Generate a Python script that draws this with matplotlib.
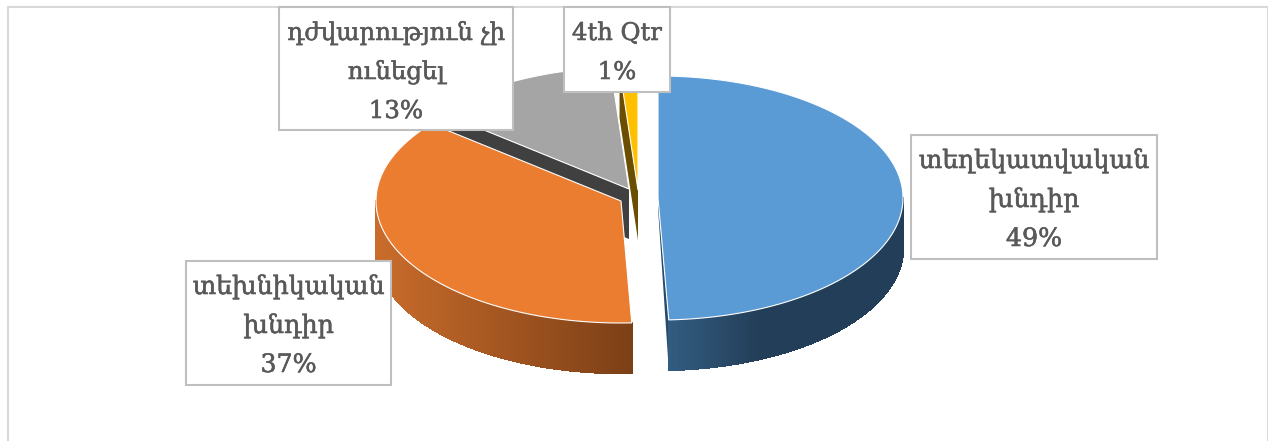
import numpy as np
import matplotlib
matplotlib.use("Agg")
import matplotlib.pyplot as plt
import matplotlib.patheffects as pe
from matplotlib.patches import Rectangle
from matplotlib.collections import PolyCollection
from matplotlib.colors import to_rgb

# ---- data ----
categories = [["տեղեկատվական", "խնդիր"], ["տեխնիկական", "խնդիր"],
              ["դժվարություն չի", "ունեցել"], ["4th Qtr"]]
values = [49.3, 36.6, 12.9, 1.2]
percent_labels = ["49%", "37%", "13%", "1%"]

# ---- style / layout (pixel space) ----
W, H = 1268, 441
top_colors = ["#5B9BD5", "#EB7D31", "#A5A5A5", "#FFC000"]
cut_colors = ["#264B6B", "#A0551F", "#404040", "#6B4E00"]
wall_left = ["#325C80", "#C96C2B", "#5F5F5F", "#8A6900"]
wall_right = ["#233E58", "#7C3F16", "#5F5F5F", "#8A6900"]
centers = [(658, 198), (621, 201), (629, 189), (638, 190)]
RX, RY, DEPTH = 245, 122, 50
apex_depth = [10, 50, 50, 50]
boxes = [(911, 135, 246, 124), (186, 261, 205, 124),
         (279, 7, 234, 123), (564, 7, 106, 85)]
font_sizes = [18.2, 18.2, 17.6, 17.5]
FIRST_BASELINE, LINE_STEP = 33, 39
TEXT = "#595959"
EDGE = "#BFBFBF"
FRAME = "#D9D9D9"

fig = plt.figure(figsize=(W / 100, H / 100), dpi=100)
ax = fig.add_axes([0, 0, 1, 1])
ax.set_xlim(0, W)
ax.set_ylim(H, 0)
ax.axis("off")


def rim(center, a):
    a = np.radians(a)
    return center[0] + RX * np.sin(a), center[1] - RY * np.cos(a)


edges = np.concatenate([[0], np.cumsum(values)]) / np.sum(values) * 360


def draw_slice(i):
    a0, a1 = edges[i], edges[i + 1]
    c = centers[i]
    # cut face that faces the viewer
    a = a1 if i == 0 else a0
    if i != 1:
        x, y = rim(c, a)
        ax.fill([c[0], x, x, c[0]],
                [c[1], y, y + DEPTH, c[1] + apex_depth[i]],
                color=cut_colors[i], lw=0, zorder=2)
    # curved outer wall on the front half
    lo, hi = max(a0, 90), min(a1, 270)
    if hi > lo:
        th = np.linspace(lo, hi, 160)
        xs, ys = rim(c, th)
        polys, cols = [], []
        xmin, xmax = xs.min(), xs.max()
        cl, cr = np.array(to_rgb(wall_left[i])), np.array(to_rgb(wall_right[i]))
        for k in range(len(th) - 1):
            polys.append([(xs[k], ys[k]), (xs[k + 1], ys[k + 1]),
                          (xs[k + 1], ys[k + 1] + DEPTH), (xs[k], ys[k] + DEPTH)])
            xm = (xs[k] + xs[k + 1]) / 2
            t = min((xm - xmin) / 90, 1) if i == 0 else (xm - xmin) / (xmax - xmin)
            cols.append(cl + (cr - cl) * t)
        ax.add_collection(PolyCollection(polys, facecolors=cols, edgecolors="face",
                                         linewidths=1.0, antialiaseds=False, zorder=2))
    # top surface
    th = np.linspace(a0, a1, 200)
    xs, ys = rim(c, th)
    ax.fill(np.r_[c[0], xs], np.r_[c[1], ys], facecolor=top_colors[i],
            edgecolor="#FFFFFF", lw=0.8, zorder=2, joinstyle="miter")


# frame
ax.plot([8, 8], [H + 5, 7], color=FRAME, lw=1.5, zorder=1)
ax.plot([8, 1267.5], [7, 7], color=FRAME, lw=1.5, zorder=1)
ax.plot([1267.5, 1267.5], [7, H + 5], color=FRAME, lw=1.5, zorder=1)

for i in (3, 2, 1, 0):
    draw_slice(i)

for i, (x, y, w, h) in enumerate(boxes):
    ax.add_patch(Rectangle((x, y), w, h, facecolor="white", edgecolor=EDGE,
                           lw=1.5, zorder=5))
    for n, line in enumerate(categories[i] + [percent_labels[i]]):
        ax.text(x + w / 2, y + FIRST_BASELINE + n * LINE_STEP, line,
                ha="center", va="baseline", color=TEXT, fontsize=font_sizes[i],
                family=["DejaVu Serif"], zorder=6,
                path_effects=[pe.withStroke(linewidth=0.4, foreground=TEXT)])

fig.savefig("out.png", dpi=100, facecolor="white")
